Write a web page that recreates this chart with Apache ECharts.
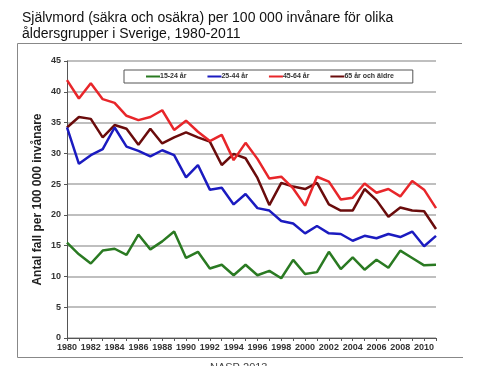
<!DOCTYPE html>
<html><head><meta charset="utf-8">
<script src="https://cdn.jsdelivr.net/npm/echarts@6/dist/echarts.min.js"></script>
<style>html,body{margin:0;padding:0;background:#fff}#c{width:482px;height:374px}</style>
</head><body><div id="c"></div>
<script>
var years = [];
for (var y = 1980; y <= 2011; y++) years.push(String(y));
var yTicks = [0,5,10,15,20,25,30,35,40,45];
var seriesNames = ['15-24 år','25-44 år','45-64 år','65 år och äldre'];
var age15_24 = [15.5,13.6,12.1,14.2,14.5,13.5,16.8,14.4,15.7,17.3,13.0,14.0,11.3,11.9,10.2,11.9,10.2,10.9,9.7,12.7,10.4,10.7,14.0,11.2,13.1,11.1,12.7,11.4,14.2,13.0,11.8,11.9];
var age25_44 = [34.2,28.3,29.7,30.7,34.2,31.1,30.4,29.5,30.5,29.7,26.1,28.1,24.1,24.4,21.7,23.4,21.1,20.7,19.0,18.6,17.0,18.2,17.0,16.9,15.8,16.6,16.2,16.9,16.4,17.3,14.9,16.6];
var age45_64 = [41.9,38.9,41.4,38.8,38.2,36.1,35.4,35.9,37.0,33.8,35.3,33.5,32.0,33.0,28.9,31.7,29.1,25.9,26.2,24.3,21.5,26.2,25.4,22.5,22.8,25.1,23.6,24.2,23.0,25.5,24.1,21.1];
var age65plus = [34.2,35.9,35.6,32.6,34.6,34.0,31.4,34.0,31.6,32.6,33.4,32.6,31.9,28.1,29.9,29.2,26.0,21.6,25.2,24.6,24.2,25.2,21.7,20.7,20.7,24.2,22.4,19.7,21.2,20.7,20.6,17.7];
var colors = ['#2a7a22','#1b1bc0','#e8262a','#6a0c0c'];
var allData = [age15_24, age25_44, age45_64, age65plus];

var chart = echarts.init(document.getElementById('c'), null, {renderer:'canvas'});
var font = '"Liberation Sans", Arial, sans-serif';
chart.setOption({
  animation: false,
  textStyle: {fontFamily: font},
  title: {
    text: 'Självmord (säkra och osäkra) per 100 000 invånare för olika\nåldersgrupper i Sverige, 1980-2011',
    left: 17, top: 5,
    textStyle: {fontSize: 14, fontWeight: 'normal', color: '#111', lineHeight: 16, fontFamily: font}
  },
  legend: {
    left: 124, top: 70,
    data: seriesNames,
    icon: 'rect', itemWidth: 14, itemHeight: 2, itemGap: 21,
    padding: [3, 19, 3, 22],
    borderColor: '#555', borderWidth: 1, backgroundColor: '#fff',
    textStyle: {fontSize: 7, fontWeight: 'bold', color: '#333', padding: [0,0,0,-5]}
  },
  grid: {left: 67, right: 46, top: 61, bottom: 36},
  xAxis: {
    type: 'category', data: years, boundaryGap: false,
    axisLine: {lineStyle: {color: '#555', width: 1}},
    axisTick: {show: true, interval: 0, length: 3, lineStyle: {color: '#555'}},
    axisLabel: {interval: 1, fontSize: 9, fontWeight: 'bold', color: '#333', margin: 5},
    splitLine: {show: false}
  },
  yAxis: {
    type: 'value', min: 0, max: 45, interval: 5,
    name: 'Antal fall per 100 000 invånare', nameLocation: 'middle', nameGap: 23,
    nameMoveOverlap: false,
    nameTextStyle: {fontSize: 12, fontWeight: 'bold', color: '#222'},
    axisLine: {show: true, lineStyle: {color: '#555'}},
    axisTick: {show: true, length: 3, lineStyle: {color: '#555'}},
    axisLabel: {fontSize: 9, fontWeight: 'bold', color: '#333', margin: 6,
      formatter: function(v){ return yTicks.indexOf(v) >= 0 ? String(v) : ''; }},
    splitLine: {show: true, lineStyle: {color: '#aaa', width: 1.5}}
  },
  graphic: [
    {type: 'polyline', shape: {points: [[462,43.5],[17.5,43.5],[17.5,357.5],[463,357.5]]},
     style: {stroke: '#888', lineWidth: 1, fill: null}, silent: true},
    {type: 'text', left: 210, top: 362, z: 1, style: {text: 'NASP 2013', fill: '#444', font: '11px ' + font}},
    {type: 'rect', shape: {x: 150, y: 366, width: 180, height: 10}, z: 5, style: {fill: '#fff'}, silent: true}
  ],
  series: seriesNames.map(function(n, i){
    return {name: n, type: 'line', data: allData[i], symbol: 'none',
      lineStyle: {color: colors[i], width: 2.5}, itemStyle: {color: colors[i]}, z: 10 - i};
  })
});
</script></body></html>
